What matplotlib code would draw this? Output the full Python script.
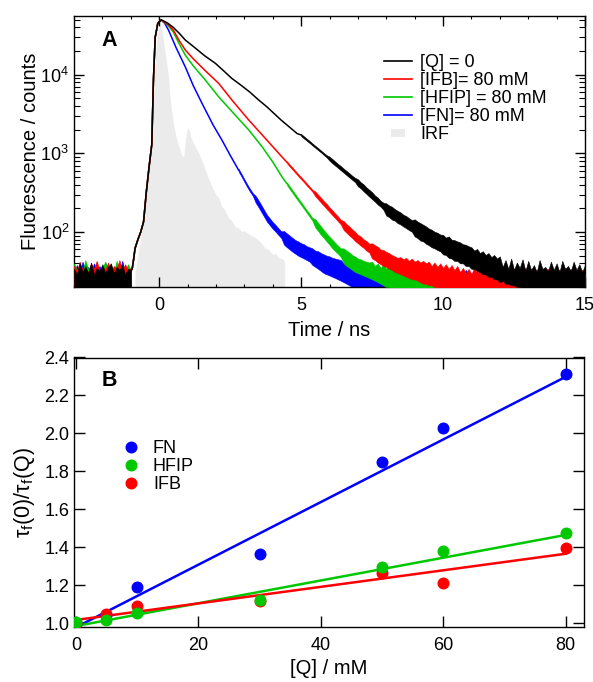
import matplotlib
matplotlib.use('Agg')
import matplotlib.pyplot as plt
import numpy as np
from matplotlib.lines import Line2D
from matplotlib.ticker import MultipleLocator, LogLocator, NullFormatter, FormatStrFormatter

plt.rcParams['font.family'] = ['Liberation Sans', 'DejaVu Sans']
plt.rcParams['mathtext.fontset'] = 'custom'
plt.rcParams['mathtext.rm'] = 'Liberation Sans'
plt.rcParams['mathtext.it'] = 'Liberation Sans:italic'

# ================= Panel A data =================
FLOOR = 15  # below the visible axis bottom (20 counts)

# baseline noise band before the pulse: -3.0 .. -1.0 ns every 0.1 ns (top of band)
base_t0, base_dt = -3.0, 0.1
black_base_hi = [34, 29, 40, 31, 37, 30, 41, 29, 35, 32, 39, 30, 36, 40, 30, 36, 33, 38, 29, 34, 33]
red_base_hi = [37, 32, 42, 33, 35, 31, 40, 34, 43, 32, 36, 33, 41, 31, 37, 34, 44, 32, 39, 33, 35]
green_base_hi = [40, 33, 36, 31, 44, 34, 38, 32, 41, 30, 35, 42, 32, 38, 31, 43, 33, 37, 32, 39, 33]
blue_base_hi = [32, 38, 31, 42, 33, 36, 30, 40, 32, 37, 31, 41, 34, 35, 30, 39, 32, 43, 31, 36, 33]

# common rising edge
rise_t = [-1.0, -0.95, -0.9, -0.85, -0.75, -0.65, -0.55, -0.45, -0.35, -0.26, -0.23, -0.2, -0.14, -0.05, 0.07]
rise_c = [32, 34, 45, 62, 80, 100, 135, 330, 700, 1300, 3500, 9000, 30000, 45000, 50000]

# smooth decay parts (line)
black_t = [0.3, 0.5, 0.7, 0.92, 1.2, 1.6, 1.98, 2.3, 2.56, 2.9, 3.2, 3.5, 3.8, 4.3, 4.86, 5.0]
black_c = [45500, 40000, 34000, 27700, 23000, 17500, 14000, 11000, 9000, 7300, 6000, 4800, 3900, 2650, 1790, 1716]
red_t = [0.3, 0.5, 0.7, 0.92, 1.2, 1.6, 2.1, 2.6, 3.16, 3.8, 4.33, 4.5]
red_c = [44000, 37000, 27500, 20700, 16000, 11500, 7760, 4600, 2650, 1470, 900, 771]
green_t = [0.3, 0.5, 0.7, 0.92, 1.2, 1.6, 2.1, 2.6, 3.16, 3.63, 4.0, 4.33, 4.5]
green_c = [43000, 35000, 25000, 17800, 13000, 8800, 5230, 3300, 1980, 1210, 780, 500, 412]
blue_t = [0.2, 0.33, 0.6, 0.92, 1.2, 1.51, 1.9, 2.21, 2.5, 2.8]
blue_c = [45000, 37000, 22000, 12600, 7300, 4330, 2300, 1480, 950, 611]

# noisy tails: band between lower and upper edge, every 0.1 ns
tail_dt = 0.1
black_tail_t0 = 5.0
black_tail_hi = [1770, 1650, 1540, 1440, 1340, 1250, 1170, 1090, 1015, 950,
                 910, 850, 790, 735, 690, 640, 600, 560, 520, 490,
                 470, 430, 405, 370, 345, 322, 292, 275, 250, 236,
                 232, 218, 210, 196, 186, 178, 166, 160, 150, 142,
                 145, 136, 130, 124, 118, 111, 107, 101, 98, 93,
                 92, 85, 88, 80, 79, 76, 74, 70, 69, 66,
                 64, 58, 61, 54, 57, 51, 54, 48, 51, 46,
                 49, 36, 44, 34, 46, 33, 41, 35, 45, 32,
                 43, 33, 38, 31, 44, 34, 36, 32, 42, 33,
                 40, 31, 43, 34, 37, 32, 42, 33, 39, 31, 38]
black_tail_lo = [1665, 1550, 1450, 1355, 1260, 1180, 1100, 1030, 955, 890,
                 810, 750, 700, 655, 610, 570, 530, 495, 462, 432,
                 382, 360, 330, 306, 282, 262, 244, 224, 210, 192,
                 162, 155, 144, 140, 130, 125, 118, 112, 106, 101,
                 88, 84, 78, 76, 71, 68, 64, 62, 59, 57,
                 52, 51, 47, 46, 43, 43, 40, 40, 37, 37,
                 34, 34, 32, 31, 29, 29, 27, 27, 25, 25,
                 23, 24, 22, 22, 21, 21, 20, 20, 19, 19]
red_tail_t0 = 4.5
red_tail_hi = [795, 722, 660, 600, 546, 500, 456, 416, 378, 345,
               328, 298, 274, 248, 228, 206, 190, 172, 158, 143,
               138, 126, 118, 108, 101, 92, 88, 81, 77, 71,
               72, 68, 65, 60, 59, 56, 54, 51, 49, 47,
               48, 45, 47, 43, 46, 42, 44, 41, 43, 40,
               42, 37, 41, 36, 40, 35, 39, 34, 38, 33,
               37, 31, 35, 30, 34, 29, 36, 30, 33, 29,
               35, 30, 32, 28, 34, 29, 31, 28, 33, 30,
               34, 28, 31, 29, 35, 28, 32, 30, 33, 28,
               31, 29, 34, 28, 32, 30, 33, 28, 31, 29,
               34, 28, 32, 30, 33, 29]
red_tail_lo = [748, 680, 620, 565, 514, 470, 430, 390, 356, 325,
               285, 260, 237, 216, 197, 180, 164, 150, 137, 125,
               106, 98, 90, 84, 77, 72, 67, 63, 58, 55,
               46, 44, 41, 39, 37, 36, 34, 33, 31, 30,
               29, 28, 27, 26, 25, 25, 24, 23, 22, 22,
               21, 21, 20, 20]
green_tail_t0 = 4.5
green_tail_hi = [428, 381, 339, 302, 268, 240, 213, 190, 170, 151,
                 146, 131, 118, 106, 96, 87, 80, 73, 67, 62,
                 62, 58, 55, 51, 49, 46, 45, 43, 42, 41,
                 42, 37, 40, 35, 39, 34, 38, 33, 36, 32,
                 31, 28, 33, 27, 30, 29, 32, 27, 31, 28,
                 30, 27, 32, 28, 31, 29, 33, 27, 30, 28,
                 32, 29, 30, 27, 33, 28, 31, 27, 32, 29,
                 29, 28, 31, 27, 33, 29, 30, 28, 32, 27,
                 31, 29, 33, 28, 30, 27, 32, 28, 31, 29,
                 30, 27, 33, 28, 31, 29, 32, 27, 30, 28,
                 32, 29, 31, 27, 33, 28]
green_tail_lo = [396, 351, 313, 278, 248, 221, 197, 176, 156, 139,
                 114, 103, 92, 84, 76, 69, 62, 57, 53, 48,
                 40, 37, 35, 33, 31, 30, 29, 28, 27, 26,
                 25, 24, 23, 22, 21, 20, 20]
blue_tail_t0 = 2.8
blue_tail_hi = [635, 551, 471, 406, 354, 312,
                288, 253, 220, 190, 165, 149, 134, 123, 112, 102,
                103, 96, 90, 84, 79, 76, 72, 70, 66, 64,
                62, 58, 57, 54, 52, 50, 49, 47, 46, 45,
                44, 40, 43, 38, 41, 37, 40, 36, 39, 35,
                31, 28, 33, 27, 30, 29, 32, 27, 31, 28,
                30, 27, 32, 28, 31, 29, 33, 27, 30, 28,
                32, 29, 30, 27, 33, 28, 31, 27, 32, 29,
                29, 28, 31, 27, 33, 29, 30, 28, 32, 27,
                31, 29, 33, 28, 30, 27, 32, 28, 31, 29,
                30, 27, 33, 28, 31, 29, 32, 27, 30, 28,
                32, 29, 31, 27, 33, 28, 30, 29, 31, 28,
                33, 27, 30, 28, 32, 29, 31]
blue_tail_lo = [587, 509, 435, 374, 326, 288,
                236, 207, 180, 156, 135, 122, 110, 101, 92, 84,
                69, 64, 60, 56, 53, 50, 48, 46, 44, 42,
                38, 36, 34, 32, 30, 29, 28, 27, 26, 25,
                24, 23, 22, 21, 20]

# instrument response function
irf_t = [-0.9, -0.85, -0.75, -0.6, -0.45, -0.3, -0.2, -0.12, -0.04, 0.04, 0.12, 0.2, 0.28, 0.33,
         0.39, 0.5, 0.6, 0.72, 0.82, 0.87, 0.93, 1.0, 1.05, 1.12, 1.25, 1.4, 1.51, 1.7, 1.86, 2.0,
         2.1, 2.21, 2.3, 2.45, 2.55, 2.69, 2.8, 2.9, 3.0, 3.16, 3.25, 3.35, 3.51, 3.6, 3.75, 3.85,
         4.0, 4.1, 4.2, 4.33, 4.42, 4.43]
irf_c = [1, 30, 50, 110, 300, 1000, 5000, 20000, 38000, 43000, 33000, 20000, 13000, 9500,
         4750, 2400, 1600, 1150, 900, 950, 1600, 2100, 2050, 1600, 1250, 1000, 815, 520, 374, 300,
         270, 209, 195, 150, 140, 116, 112, 102, 104, 95, 90, 86, 78, 72, 62, 60,
         52, 54, 47, 46, 42, 1]

labels_A = ['[Q] = 0', '[IFB]= 80 mM', '[HFIP] = 80 mM', '[FN]= 80 mM', 'IRF']

# ================= Panel B data =================
conc = [0, 5, 10, 30, 50, 60, 80]
fn_vals = [1.0, 1.045, 1.189, 1.366, 1.851, 2.027, 2.315]
hfip_vals = [1.005, 1.017, 1.056, 1.123, 1.295, 1.378, 1.475]
ifb_vals = [1.0, 1.047, 1.091, 1.117, 1.263, 1.211, 1.398]
fit_x = [0, 80]
fn_fit = [0.978, 2.298]
hfip_fit = [0.985, 1.465]
ifb_fit = [1.017, 1.366]
labels_B = ['FN', 'HFIP', 'IFB']

C_BLACK, C_RED, C_GREEN, C_BLUE, C_IRF = '#000000', '#ff0000', '#00c800', '#0000ff', '#ebebeb'


def band(ax, t0, dt, hi, lo, color, z):
    t = t0 + dt * np.arange(len(hi))
    lo_full = list(lo) + [FLOOR] * (len(hi) - len(lo))
    ax.fill_between(t, lo_full, hi, color=color, linewidth=0.4, edgecolor=color, zorder=z)


fig = plt.figure(figsize=(5.93, 6.82), dpi=100)
axA = fig.add_axes([74 / 593, 1 - 287 / 682, 511 / 593, 271 / 682])
axB = fig.add_axes([74 / 593, 1 - 627 / 682, 510 / 593, 269.5 / 682])

# ---- Panel A ----
axA.fill_between(irf_t, 1, irf_c, color=C_IRF, linewidth=0, zorder=1)
lw = 1.1
curves = [
    (C_BLUE, blue_base_hi, blue_t, blue_c, blue_tail_t0, blue_tail_hi, blue_tail_lo, 2),
    (C_GREEN, green_base_hi, green_t, green_c, green_tail_t0, green_tail_hi, green_tail_lo, 3),
    (C_RED, red_base_hi, red_t, red_c, red_tail_t0, red_tail_hi, red_tail_lo, 4),
    (C_BLACK, black_base_hi, black_t, black_c, black_tail_t0, black_tail_hi, black_tail_lo, 5),
]
for col, bhi, st, sc, tt0, thi, tlo, z in curves:
    band(axA, base_t0, base_dt, bhi, [], col, z)
    axA.plot(rise_t + st, rise_c + sc, color=col, lw=lw, zorder=z)
    band(axA, tt0, tail_dt, thi, tlo, col, z)

axA.set_yscale('log')
axA.set_xlim(-3.0, 15.0)
axA.set_ylim(20, 56000)
axA.xaxis.set_major_locator(MultipleLocator(5))
axA.xaxis.set_minor_locator(MultipleLocator(1))
axA.yaxis.set_major_locator(LogLocator(base=10))
axA.yaxis.set_minor_locator(LogLocator(base=10, subs=np.arange(2, 10)))
axA.yaxis.set_minor_formatter(NullFormatter())
axA.tick_params(which='both', direction='in', top=True, right=True, labelsize=13)
axA.tick_params(which='major', length=7, width=1)
axA.tick_params(which='minor', length=4, width=0.8)
axA.tick_params(axis='x', which='minor', length=2)
axA.tick_params(axis='x', which='major', pad=7)
axA.set_xlabel('Time / ns', fontsize=14.5, labelpad=5)
axA.set_ylabel('Fluorescence / counts', fontsize=14.5, labelpad=0)
axA.text(0.0685, 0.909, 'A', transform=axA.transAxes, fontsize=15.5, fontweight='bold',
         ha='center', va='center', zorder=10)

irf_marker = [(-1.6, -1), (1.6, -1), (1.6, 1), (-1.6, 1)]
handlesA = [Line2D([], [], color=C_BLACK, lw=1.2),
            Line2D([], [], color=C_RED, lw=1.2),
            Line2D([], [], color=C_GREEN, lw=1.2),
            Line2D([], [], color=C_BLUE, lw=1.2),
            Line2D([], [], ls='none', marker=irf_marker, markersize=9.5, color=C_IRF,
                   markeredgewidth=0)]
axA.legend(handlesA, labels_A, loc='upper left', bbox_to_anchor=(0.607, 0.86),
           frameon=False, fontsize=13, handlelength=1.55, handletextpad=0.45,
           labelspacing=0.055, borderpad=0, borderaxespad=0)

# ---- Panel B ----
axB.plot(fit_x, fn_fit, color=C_BLUE, lw=1.8, zorder=2)
axB.plot(fit_x, hfip_fit, color=C_GREEN, lw=1.8, zorder=2)
axB.plot(fit_x, ifb_fit, color=C_RED, lw=1.8, zorder=2)
ms = 7.6
pb, = axB.plot(conc, fn_vals, 'o', color=C_BLUE, ms=ms, zorder=3)
pr, = axB.plot(conc, ifb_vals, 'o', color=C_RED, ms=ms, zorder=4)
pg, = axB.plot(conc, hfip_vals, 'o', color=C_GREEN, ms=ms, zorder=5)

axB.set_xlim(-0.3, 83)
axB.set_ylim(0.98, 2.4)
axB.xaxis.set_major_locator(MultipleLocator(20))
axB.yaxis.set_major_locator(MultipleLocator(0.2))
axB.yaxis.set_major_formatter(FormatStrFormatter('%.1f'))
axB.tick_params(which='both', direction='in', top=True, right=True, labelsize=13,
                length=8, width=1)
axB.tick_params(axis='x', pad=7)
axB.set_xlabel('[Q] / mM', fontsize=14.5, labelpad=4)
axB.set_ylabel(r'τ$_\mathregular{f}$(0)/τ$_\mathregular{f}$(Q)', fontsize=15.5, labelpad=5)
axB.text(0.0686, 0.913, 'B', transform=axB.transAxes, fontsize=15.5, fontweight='bold',
         ha='center', va='center')
axB.legend([pb, pg, pr], labels_B, loc='upper left',
           bbox_to_anchor=(0.094, 0.693), frameon=False, fontsize=13, numpoints=1,
           handlelength=1.0, handletextpad=0.72, labelspacing=0.06, borderpad=0,
           borderaxespad=0)

for ax in (axA, axB):
    for s in ax.spines.values():
        s.set_linewidth(1.0)

fig.savefig('out.png', dpi=100)
